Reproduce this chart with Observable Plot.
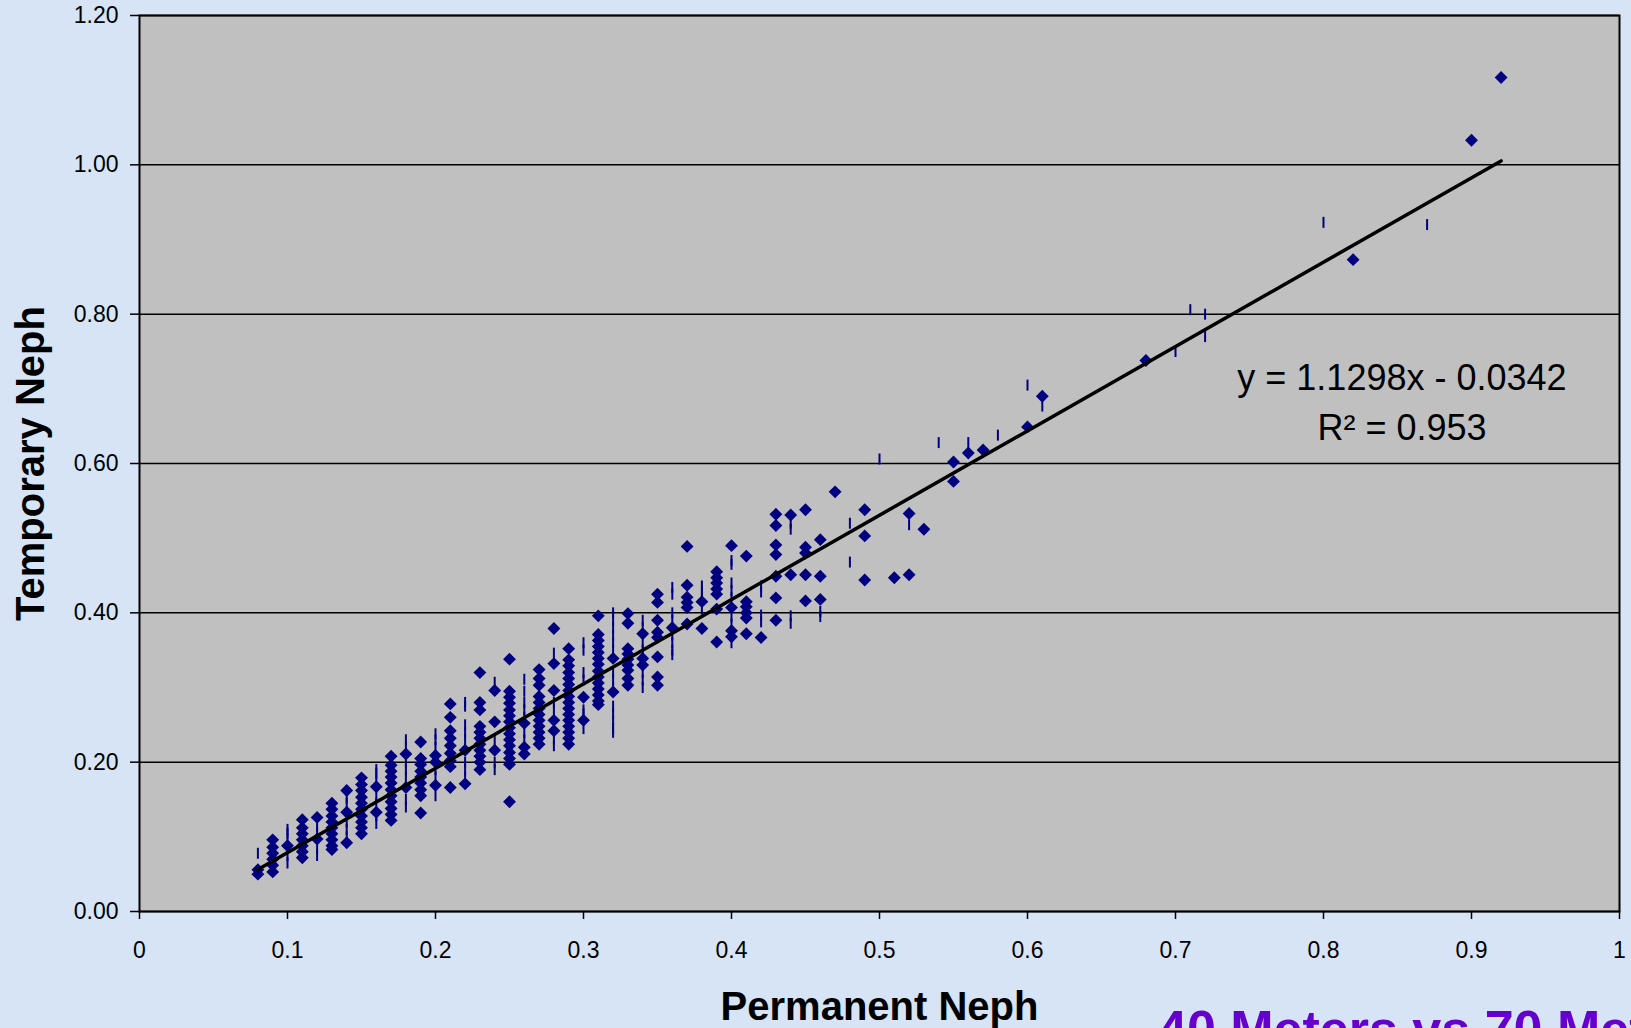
<!DOCTYPE html>
<html>
<head>
<meta charset="utf-8">
<script src="https://cdn.jsdelivr.net/npm/d3@7"></script>
<script src="https://cdn.jsdelivr.net/npm/@observablehq/plot@0.6"></script>
<style>
  html, body { margin: 0; padding: 0; background: #d6e4f6; overflow: hidden; width: 1631px; height: 1028px; }
  #wrap { position: relative; width: 1631px; height: 1028px; }
  #chart svg { display: block; }
  #slide-title { position: absolute; left: 1158px; top: 1003px; font: bold 52px "Liberation Sans", Arial, sans-serif; line-height: 52px; color: #6600cc; white-space: nowrap; }
</style>
</head>
<body>
<div id="wrap">
  <div id="chart"></div>
  <div id="slide-title">40 Meters vs 70 Meters</div>
</div>
<script>
// ---- Data ----
// Series 1: diamond markers, grouped by Permanent Neph value -> list of Temporary Neph values
const diamondColumns = [
  [0.08, [0.05, 0.056]],
  [0.09, [0.096, 0.086, 0.078, 0.07, 0.062, 0.053]],
  [0.10, [0.088]],
  [0.11, [0.123, 0.112, 0.104, 0.096, 0.088, 0.08, 0.072]],
  [0.12, [0.126, 0.097]],
  [0.13, [0.145, 0.137, 0.128, 0.12, 0.112, 0.104, 0.096, 0.088, 0.083]],
  [0.14, [0.162, 0.133, 0.092]],
  [0.15, [0.179, 0.17, 0.162, 0.153, 0.145, 0.137, 0.128, 0.12, 0.112, 0.104]],
  [0.16, [0.167, 0.133]],
  [0.17, [0.208, 0.196, 0.188, 0.18, 0.172, 0.163, 0.155, 0.147, 0.138, 0.13, 0.122]],
  [0.18, [0.211, 0.166]],
  [0.19, [0.227, 0.205, 0.197, 0.188, 0.18, 0.172, 0.163, 0.155, 0.132]],
  [0.20, [0.209, 0.2, 0.169]],
  [0.21, [0.278, 0.26, 0.242, 0.232, 0.222, 0.212, 0.202, 0.194, 0.166]],
  [0.22, [0.216, 0.171]],
  [0.23, [0.32, 0.28, 0.27, 0.248, 0.24, 0.232, 0.224, 0.216, 0.208, 0.2, 0.19]],
  [0.24, [0.296, 0.254, 0.216]],
  [0.25, [0.338, 0.295, 0.287, 0.279, 0.27, 0.262, 0.254, 0.246, 0.238, 0.23, 0.222, 0.213, 0.205, 0.197, 0.147]],
  [0.26, [0.252, 0.22, 0.211]],
  [0.27, [0.324, 0.312, 0.303, 0.288, 0.28, 0.272, 0.264, 0.256, 0.248, 0.24, 0.232, 0.224]],
  [0.28, [0.379, 0.332, 0.296, 0.256, 0.242]],
  [0.29, [0.352, 0.337, 0.329, 0.32, 0.312, 0.304, 0.296, 0.288, 0.28, 0.272, 0.264, 0.256, 0.248, 0.24, 0.232, 0.224]],
  [0.30, [0.287, 0.256]],
  [0.31, [0.396, 0.371, 0.363, 0.355, 0.347, 0.339, 0.331, 0.322, 0.314, 0.306, 0.298, 0.29, 0.282, 0.277]],
  [0.32, [0.339, 0.294]],
  [0.33, [0.399, 0.386, 0.352, 0.345, 0.338, 0.33, 0.323, 0.312, 0.303]],
  [0.34, [0.372, 0.339, 0.33]],
  [0.35, [0.425, 0.414, 0.39, 0.374, 0.367, 0.341, 0.314, 0.303]],
  [0.36, [0.38]],
  [0.37, [0.489, 0.437, 0.421, 0.414, 0.407, 0.385]],
  [0.38, [0.415, 0.379]],
  [0.39, [0.455, 0.447, 0.44, 0.432, 0.425, 0.405, 0.361]],
  [0.40, [0.49, 0.407, 0.376, 0.368]],
  [0.41, [0.476, 0.415, 0.408, 0.4, 0.393, 0.372]],
  [0.42, [0.367]],
  [0.43, [0.532, 0.517, 0.491, 0.478, 0.449, 0.42, 0.39]],
  [0.44, [0.531, 0.451]],
  [0.45, [0.538, 0.488, 0.48, 0.451, 0.416]],
  [0.46, [0.498, 0.449, 0.418]],
  [0.47, [0.562]],
  [0.49, [0.538, 0.503, 0.444]],
  [0.51, [0.447]],
  [0.52, [0.533, 0.451]],
  [0.53, [0.512]],
  [0.55, [0.602, 0.576]],
  [0.56, [0.614]],
  [0.57, [0.618]],
  [0.60, [0.649]],
  [0.61, [0.69]],
  [0.68, [0.738]],
  [0.82, [0.873]],
  [0.90, [1.033]],
  [0.92, [1.117]]
];

// Series 2: dash markers, grouped the same way
const dashColumns = [
  [0.08, [0.078]],
  [0.10, [0.065, 0.075, 0.085, 0.097, 0.105, 0.11]],
  [0.12, [0.075, 0.085, 0.105, 0.115]],
  [0.14, [0.1, 0.11, 0.12, 0.145, 0.152]],
  [0.16, [0.118, 0.128, 0.145, 0.155, 0.175, 0.185, 0.19]],
  [0.18, [0.14, 0.15, 0.18, 0.19, 0.2, 0.22, 0.23]],
  [0.20, [0.155, 0.18, 0.19, 0.22, 0.23, 0.238]],
  [0.22, [0.28, 0.275, 0.18, 0.19, 0.2, 0.23, 0.24, 0.25]],
  [0.24, [0.307, 0.19, 0.2, 0.23]],
  [0.26, [0.311, 0.295, 0.28, 0.27, 0.26, 0.24, 0.23]],
  [0.28, [0.346, 0.28, 0.27, 0.232, 0.222]],
  [0.30, [0.36, 0.35, 0.32, 0.31, 0.27, 0.265, 0.245]],
  [0.32, [0.4, 0.39, 0.38, 0.37, 0.36, 0.35, 0.32, 0.31, 0.3, 0.275, 0.265, 0.255, 0.245, 0.24]],
  [0.34, [0.39, 0.38, 0.36, 0.35, 0.32, 0.31, 0.3]],
  [0.36, [0.434, 0.425, 0.4, 0.39, 0.37, 0.36, 0.35, 0.344]],
  [0.38, [0.436, 0.428, 0.42, 0.405]],
  [0.40, [0.47, 0.465, 0.44, 0.43, 0.42, 0.395, 0.385, 0.36]],
  [0.42, [0.436, 0.428, 0.397, 0.388]],
  [0.44, [0.52, 0.512, 0.396, 0.386]],
  [0.46, [0.402, 0.395]],
  [0.48, [0.52, 0.468]],
  [0.50, [0.606]],
  [0.52, [0.518]],
  [0.54, [0.628]],
  [0.56, [0.628]],
  [0.58, [0.638]],
  [0.60, [0.705]],
  [0.61, [0.677]],
  [0.70, [0.75]],
  [0.71, [0.806]],
  [0.72, [0.80, 0.77]],
  [0.80, [0.923]],
  [0.87, [0.92]]
];

// Linear trend line (as printed on the chart)
const trendSlope = 1.1298;
const trendIntercept = -0.0342;
const trendR2 = 0.953;
const equationLines = ["y = 1.1298x - 0.0342", "R\u00B2 = 0.953"];

// Axis ticks and labels
const xTicks = [0, 0.1, 0.2, 0.3, 0.4, 0.5, 0.6, 0.7, 0.8, 0.9, 1];
const xTickLabels = ["0", "0.1", "0.2", "0.3", "0.4", "0.5", "0.6", "0.7", "0.8", "0.9", "1"];
const yTicks = [0, 0.2, 0.4, 0.6, 0.8, 1.0, 1.2];
const yTickLabels = ["0.00", "0.20", "0.40", "0.60", "0.80", "1.00", "1.20"];
const xTitle = "Permanent Neph";
const yTitle = "Temporary Neph";

// ---- Build tables ----
const diamonds = diamondColumns.flatMap(([x, ys]) => ys.map(y => ({x, y})));
const dashes = dashColumns.flatMap(([x, ys]) => ys.map(y => ({x, y})));
const trendExtent = d3.extent(diamonds, d => d.x);
const trend = trendExtent.map(x => ({x, y: trendSlope * x + trendIntercept}));
// equation label anchored in data space
const eqAnchorX = 0.853;
const eqAnchorY = [0.699, 0.631];
const equation = equationLines.map((text, i) => ({text, x: eqAnchorX, y: eqAnchorY[i]}));

const verticalBar = {
  draw(context, size) {
    const h = Math.sqrt(size / Math.PI);
    context.moveTo(0, -h);
    context.lineTo(0, h);
  }
};

const navy = "#000080";
const font = '"Liberation Sans", Arial, sans-serif';

const chart = Plot.plot({
  width: 1631,
  height: 1028,
  marginLeft: 139,
  marginRight: 12,
  marginTop: 15,
  marginBottom: 117,
  style: { background: "transparent", fontFamily: font, fontSize: "23px", color: "black" },
  x: { domain: [0, 1] },
  y: { domain: [0, 1.2] },
  marks: [
    Plot.frame({ fill: "#c0c0c0" }),
    Plot.ruleY(yTicks, { stroke: "black", strokeWidth: 1.5 }),
    Plot.dot(dashes, { x: "x", y: "y", symbol: verticalBar, r: 5.5, fill: "none", stroke: navy, strokeWidth: 2 }),
    Plot.dot(diamonds, { x: "x", y: "y", symbol: "diamond2", r: 5.8, fill: navy, stroke: "none" }),
    Plot.line(trend, { x: "x", y: "y", stroke: "black", strokeWidth: 3.5 }),
    Plot.frame({ stroke: "black", strokeWidth: 2 }),
    Plot.axisY(yTicks, { tickFormat: d => yTickLabels[yTicks.indexOf(d)], tickSize: 9, tickPadding: 12, label: null, strokeWidth: 1.5, fontSize: 23 }),
    Plot.axisX(xTicks, { tickFormat: d => xTickLabels[xTicks.indexOf(d)], tickSize: 8, tickPadding: 22, label: null, strokeWidth: 1.5, fontSize: 23 }),
    Plot.text([xTitle], { text: d => d, frameAnchor: "bottom", dy: 108, lineAnchor: "bottom", textAnchor: "middle", fontSize: 40, fontWeight: "bold", fill: "black" }),
    Plot.text([yTitle], { text: d => d, frameAnchor: "left", dx: -96, rotate: -90, lineAnchor: "bottom", textAnchor: "middle", fontSize: 40, fontWeight: "bold", fill: "black" }),
    Plot.text(equation, { x: "x", y: "y", text: "text", lineAnchor: "bottom", textAnchor: "middle", fontSize: 36, fill: "black" })
  ]
});
document.getElementById("chart").appendChild(chart);
</script>
</body>
</html>
